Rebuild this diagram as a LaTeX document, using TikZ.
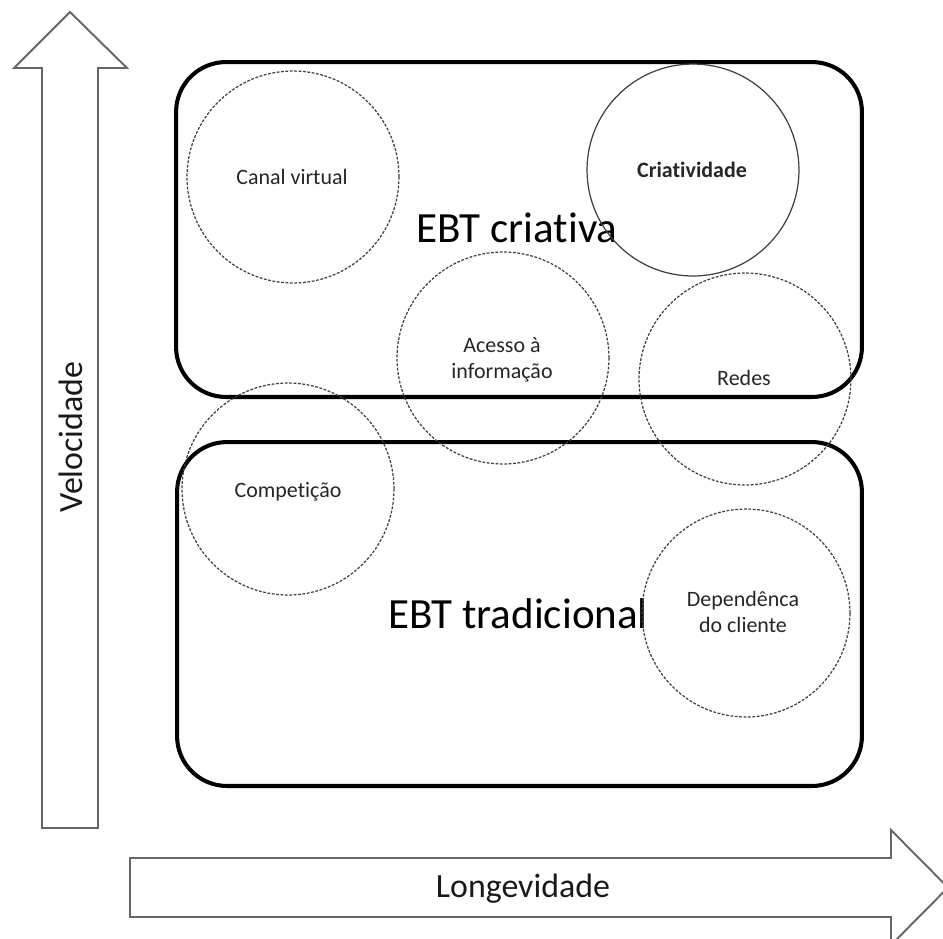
\documentclass[tikz,border=0pt]{standalone}
\usepackage{fontspec}
\setmainfont{Carlito}[Ligatures=CommonOff]
\usetikzlibrary{positioning}
\tikzstyle{bigbox} = [rectangle, draw, line width=2.3pt, rounded corners=1cm, inner sep=0pt]
\tikzstyle{factor} = [circle, draw=black!75, line width=0.7pt, dash pattern=on 1.6pt off 0.9pt, minimum size=4.24cm, inner sep=0pt]
\tikzstyle{smalltext} = [text=black!85, font=\fontsize{12.5}{14.8}\selectfont, align=center, inner sep=0pt]
\tikzstyle{bigtext} = [font=\fontsize{24.5}{29}\selectfont, inner sep=0pt]
\tikzstyle{axistext} = [text=black!90, font=\fontsize{19.3}{23}\selectfont, inner sep=0pt]
\tikzstyle{axisarrow} = [draw=black!60, line width=1.1pt, line join=miter]

\begin{document}
\begin{tikzpicture}[x=0.02cm, y=-0.02cm]

        \useasboundingbox (0, 0) rectangle (943, 938);
        \clip (0, 0) rectangle (943, 938);

        % axes
        \draw[axisarrow] (42, 828) -- (42, 68) -- (14, 68) -- (70, 12) -- (127, 68) -- (98, 68) -- (98, 828) -- cycle;
        \draw[axisarrow] (130, 858) -- (891, 858) -- (891, 830) -- (948, 887.5) -- (891, 945) -- (891, 917) -- (130, 917) -- cycle;
        \node[axistext, rotate=90, anchor=base] at (82, 437) (velocidade) {Velocidade};
        \node[axistext, anchor=base] at (523, 897) (longevidade) {Longevidade};

        % the two groups
        \node[bigbox, minimum width=13.72cm, minimum height=6.7cm] at (519, 229.5) (criativa) {};
        \node[bigbox, minimum width=13.7cm, minimum height=6.88cm] at (519.5, 614) (tradicional) {};
        \node[bigtext, anchor=base] at (517, 242) (criativaText) {EBT criativa};
        \node[bigtext, anchor=base] at (518, 628) (tradicionalText) {EBT tradicional};

        % factors
        \node[factor] at (293, 177) (canal) {};
        \node[factor, solid, line width=0.7pt] at (693, 170) (criatividade) {};
        \node[factor] at (503, 358) (acesso) {};
        \node[factor] at (745, 379) (redes) {};
        \node[factor] at (288, 489) (competicao) {};
        \node[factor, minimum size=4.16cm] at (746, 613) (dependencia) {};

        \node[smalltext, anchor=base] at (292, 184) (canalText) {Canal virtual};
        \node[smalltext, anchor=base, font=\fontsize{12.5}{14.8}\selectfont\bfseries] at (692, 177) (criatividadeText) {Criatividade};
        \node[smalltext] at (502, 359.5) (acessoText) {Acesso à\\informação};
        \node[smalltext, anchor=base] at (744, 385) (redesText) {Redes};
        \node[smalltext, anchor=base] at (288, 497) (competicaoText) {Competição};
        \node[smalltext] at (743, 612) (dependenciaText) {Dependênca\\do cliente};

\end{tikzpicture}
\end{document}
